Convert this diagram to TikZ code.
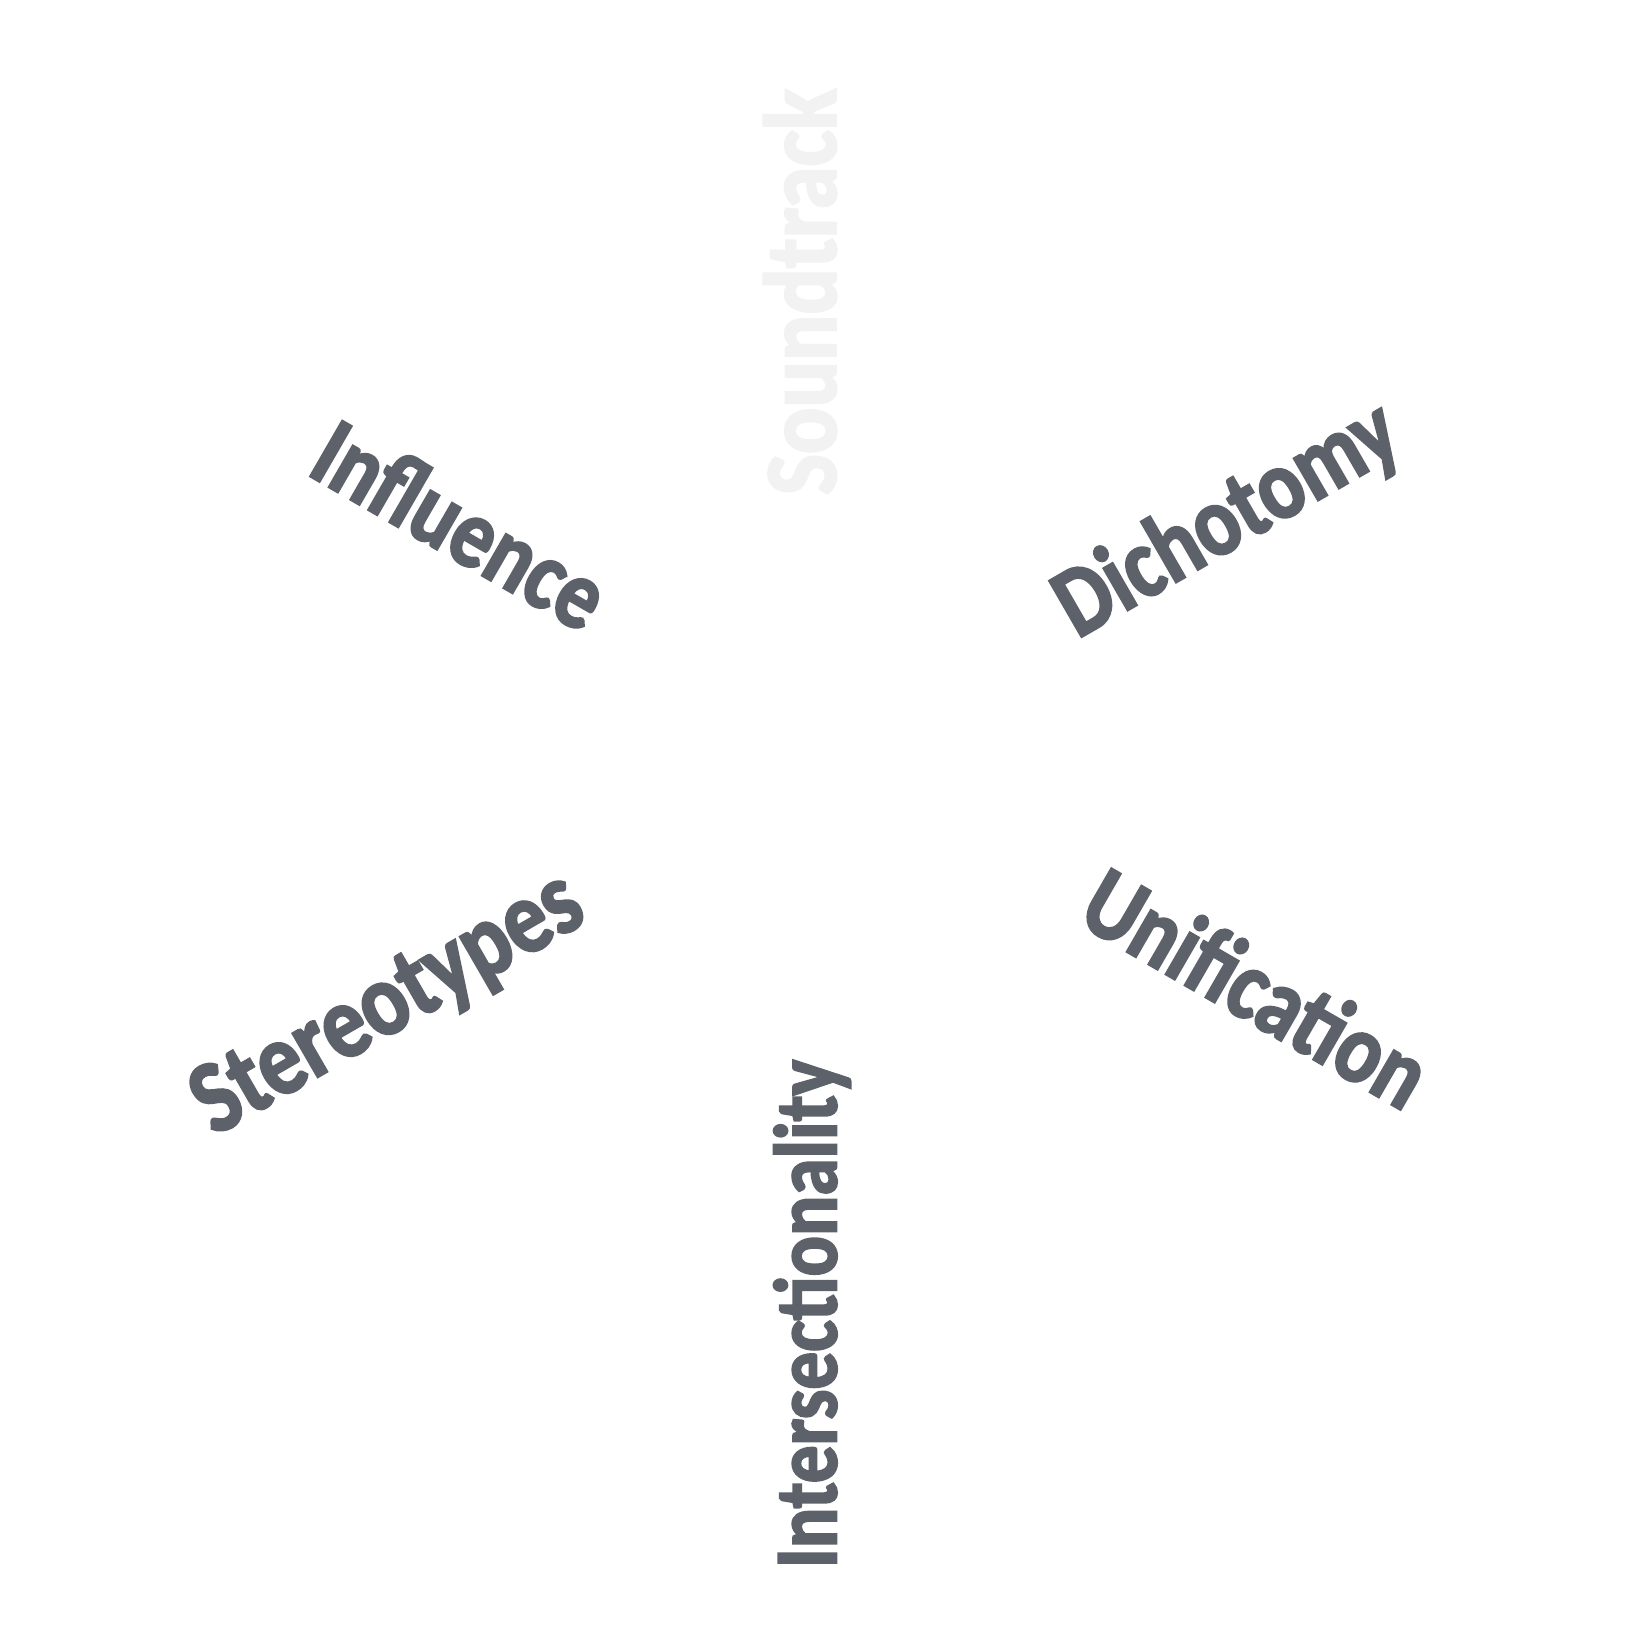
\documentclass[tikz,border=0pt]{standalone}
\usepackage{fontspec}
\newfontfamily\wcfont{Carlito Bold}[FakeStretch=0.84,FakeBold=2.2]
\definecolor{wdark}{RGB}{93,97,105}
\definecolor{wlight}{RGB}{242,242,242}
\begin{document}
\begin{tikzpicture}[x=1pt,y=-1pt,
  word/.style={inner sep=0pt, outer sep=0pt, anchor=center, text=wdark,
    font=\wcfont\fontsize{#1}{#1}\selectfont}]
\useasboundingbox (0,0) rectangle (1651,1650);
\fill[white] (0,0) rectangle (1651,1650);
\node[word=103, rotate=90, text=wlight] (sound) at (800,292) {Soundtrack};
\node[word=89.5, rotate=90] (inter) at (812,1314) {Intersectionality};
\node[word=99, rotate=-30] (infl) at (461,524) {Influence};
\node[word=100, rotate=30] (dich) at (1228,521) {Dichotomy};
\node[word=99.5, rotate=-30] (unif) at (1257,987) {Unification};
\node[word=104, rotate=30] (ster) at (389,1006) {Stereotypes};
\end{tikzpicture}
\end{document}
